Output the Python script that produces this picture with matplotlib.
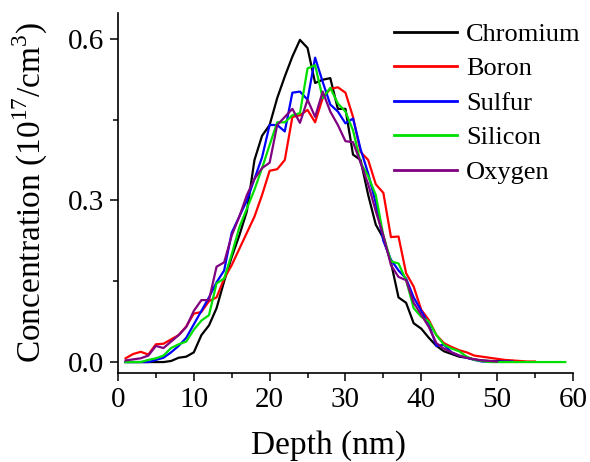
import matplotlib
matplotlib.use("Agg")
import matplotlib.pyplot as plt
from matplotlib.ticker import MultipleLocator

plt.rcParams['font.family'] = ['Liberation Serif', 'DejaVu Serif']

chromium = [0, 0, 0, 0, 0, 0, 0.002, 0.008, 0.01, 0.018, 0.05, 0.068, 0.1, 0.15,
            0.195, 0.235, 0.28, 0.375, 0.42, 0.44, 0.49, 0.53, 0.567, 0.598, 0.583,
            0.518, 0.524, 0.527, 0.47, 0.47, 0.385, 0.375, 0.31, 0.255, 0.23, 0.185,
            0.12, 0.11, 0.072, 0.062, 0.045, 0.03, 0.02, 0.015, 0.01, 0.008, 0.005,
            0.003, 0.002, 0.002, 0.002, 0.002]
boron = [0.007, 0.015, 0.019, 0.014, 0.033, 0.034, 0.042, 0.05, 0.066, 0.09, 0.093,
         0.113, 0.12, 0.155, 0.18, 0.21, 0.24, 0.27, 0.31, 0.355, 0.358, 0.375, 0.455,
         0.458, 0.468, 0.445, 0.49, 0.507, 0.51, 0.5, 0.455, 0.39, 0.375, 0.33, 0.314,
         0.232, 0.233, 0.165, 0.14, 0.097, 0.078, 0.05, 0.035, 0.028, 0.022, 0.018,
         0.012, 0.01, 0.008, 0.006, 0.004, 0.003, 0.002, 0.001, 0.001]
sulfur = [0, 0, 0, 0, 0.004, 0.008, 0.018, 0.03, 0.045, 0.07, 0.095, 0.12, 0.148,
          0.17, 0.24, 0.27, 0.3, 0.34, 0.38, 0.44, 0.44, 0.428, 0.5, 0.502, 0.487,
          0.565, 0.52, 0.478, 0.465, 0.443, 0.452, 0.395, 0.35, 0.295, 0.225, 0.19,
          0.17, 0.155, 0.12, 0.095, 0.07, 0.03, 0.032, 0.018, 0.012, 0.008, 0.004,
          0.001, 0.001, 0.001, 0.001, 0.001]
silicon = [0, 0, 0, 0.004, 0.007, 0.012, 0.026, 0.033, 0.038, 0.06, 0.077, 0.087,
           0.146, 0.155, 0.2, 0.25, 0.285, 0.32, 0.36, 0.403, 0.445, 0.445, 0.458,
           0.462, 0.545, 0.551, 0.49, 0.509, 0.48, 0.465, 0.43, 0.37, 0.345, 0.31,
           0.235, 0.187, 0.183, 0.152, 0.1, 0.084, 0.075, 0.05, 0.032, 0.025, 0.02,
           0.01, 0.004, 0.002, 0, 0, 0, 0, 0, 0, 0, 0, 0, 0, 0]
oxygen = [0.003, 0.005, 0.007, 0.012, 0.03, 0.026, 0.038, 0.05, 0.065, 0.095, 0.115,
          0.115, 0.177, 0.185, 0.235, 0.27, 0.31, 0.34, 0.36, 0.37, 0.44, 0.455, 0.47,
          0.444, 0.487, 0.455, 0.502, 0.465, 0.44, 0.41, 0.408, 0.37, 0.33, 0.28,
          0.235, 0.18, 0.158, 0.152, 0.11, 0.088, 0.065, 0.035, 0.025, 0.018, 0.012,
          0.008, 0.005, 0.003, 0.002, 0.001]

series = [("Chromium", chromium, "#000000"),
          ("Boron", boron, "#ff0000"),
          ("Sulfur", sulfur, "#0000ff"),
          ("Silicon", silicon, "#00e000"),
          ("Oxygen", oxygen, "#800080")]

fig = plt.figure(figsize=(5.9, 4.62), dpi=100)
ax = fig.add_axes([0.2, 0.193, 0.771, 0.779])

for name, vals, col in series:
    xs = list(range(1, len(vals) + 1))
    ax.plot(xs, vals, color=col, lw=1.6, label=name)

ax.set_xlim(0, 60)
ax.set_ylim(-0.02, 0.648)
ax.xaxis.set_major_locator(MultipleLocator(10))
ax.xaxis.set_minor_locator(MultipleLocator(5))
ax.set_yticks([0.0, 0.3, 0.6])
ax.set_yticklabels(["0.0", "0.3", "0.6"])
ax.yaxis.set_minor_locator(MultipleLocator(0.15))

for s in ["top", "right"]:
    ax.spines[s].set_visible(False)
for s in ["left", "bottom"]:
    ax.spines[s].set_linewidth(1.2)

ax.tick_params(which="major", direction="out", length=6, width=1.1, labelsize=21, pad=4)
ax.tick_params(which="minor", direction="out", length=3.5, width=1.1)

ax.set_xlabel("Depth (nm)", fontsize=24)
ax.xaxis.set_label_coords(0.462, -0.16)
ax.set_ylabel("Concentration (10$^{\\mathregular{17}}$/cm$^{\\mathregular{3}}$)", fontsize=24, labelpad=13)

leg = ax.legend(loc="upper right", bbox_to_anchor=(1.07, 1.04), frameon=False,
                fontsize=19, handlelength=2.4, handletextpad=0.35, labelspacing=0.42)
for l in leg.get_lines():
    l.set_linewidth(2)

fig.savefig("out.png", dpi=100)
